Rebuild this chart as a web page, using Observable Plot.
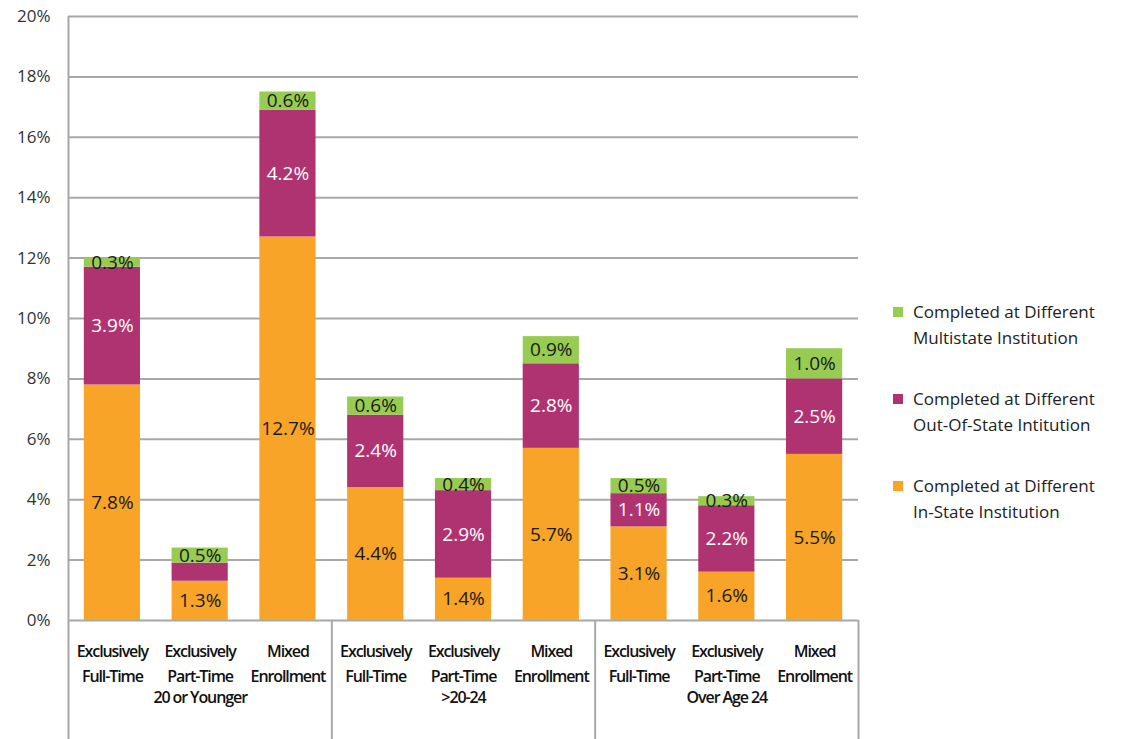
<!DOCTYPE html>
<html>
<head>
<meta charset="utf-8">
<script src="https://cdn.jsdelivr.net/npm/d3@7"></script>
<script src="https://cdn.jsdelivr.net/npm/@observablehq/plot@0.6"></script>
<style>
  html, body { margin: 0; padding: 0; background: #fff; }
  #wrap { position: relative; width: 1133px; height: 739px; overflow: hidden; }
  #legend { position: absolute; left: 893px; top: 299px; font-family: "Open Sans", sans-serif; font-size: 17px; color: #222; }
  .item { position: relative; padding-left: 20px; line-height: 26px; height: 87px; }
  .sw { position: absolute; left: 0; top: 8px; width: 10px; height: 10px; }
  g[aria-label="x-axis tick label"] text { letter-spacing: -1.1px; font-weight: 600; }
</style>
</head>
<body>
<div id="wrap"></div>
<script>
const groups = ["20 or Younger", ">20-24", "Over Age 24"];
const enrollment = ["Exclusively\nFull-Time", "Exclusively\nPart-Time", "Mixed\nEnrollment"];
const series = [
  "Completed at Different In-State Institution",
  "Completed at Different Out-Of-State Intitution",
  "Completed at Different Multistate Institution"
];
const legendLines = [
  ["Completed at Different", "Multistate Institution"],
  ["Completed at Different", "Out-Of-State Intitution"],
  ["Completed at Different", "In-State Institution"]
];
const colors = ["#F7A428", "#B03371", "#98CB52"];
// values per bar: groups x enrollment, in order
const inState    = [7.8, 1.3, 12.7, 4.4, 1.4, 5.7, 3.1, 1.6, 5.5];
const outOfState = [3.9, 0.6, 4.2, 2.4, 2.9, 2.8, 1.1, 2.2, 2.5];
const multistate = [0.3, 0.5, 0.6, 0.6, 0.4, 0.9, 0.5, 0.3, 1.0];
// labels not shown in the original (bar index, series index)
const hiddenLabels = [[1, 1]];
const yTicks = [0, 2, 4, 6, 8, 10, 12, 14, 16, 18, 20];

const keys = [];
groups.forEach(g => enrollment.forEach(e => keys.push(g + "|" + e)));
const seriesValues = [inState, outOfState, multistate];
const rows = [];
keys.forEach((k, i) => {
  seriesValues.forEach((vals, s) => {
    rows.push({
      key: k, bar: i, s, series: series[s], value: vals[i],
      hidden: hiddenLabels.some(([b, ss]) => b === i && ss === s)
    });
  });
});

const W = 1133, H = 739;
const mL = 68, mR = 275, mT = 16, mB = 119;
const plotW = W - mL - mR;
const step = plotW / keys.length;
const pxPerUnit = (H - mT - mB) / 20;
const yBottom = -mB / pxPerUnit;
const fmt = v => v.toFixed(1) + "%";

const leftBoundaries = [
  {key: keys[0], y1: 20},
  {key: keys[3], y1: 0},
  {key: keys[6], y1: 0}
];
const rightBoundaries = [{key: keys[8], y1: 0}];

const chart = Plot.plot({
  width: W, height: H,
  marginLeft: mL, marginRight: mR, marginTop: mT, marginBottom: mB,
  style: {fontFamily: "'Open Sans', sans-serif", background: "#fff"},
  x: {domain: keys, paddingInner: 0.36, paddingOuter: 0.18, round: false, axis: null},
  y: {domain: [0, 20], axis: null},
  color: {domain: series, range: colors},
  marks: [
    Plot.ruleY(yTicks, {stroke: "#a8a8a8", strokeWidth: 2}),
    Plot.barY(rows, Plot.stackY({x: "key", y: "value", fill: "series"})),
    Plot.text(rows, Plot.stackY({
      x: "key", y: "value",
      text: d => (d.s !== 1 && !d.hidden) ? fmt(d.value) : "",
      fill: "#1a1a1a", fontSize: 19
    })),
    Plot.text(rows, Plot.stackY({
      x: "key", y: "value",
      text: d => (d.s === 1 && !d.hidden) ? fmt(d.value) : "",
      fill: "#ffffff", fontSize: 19
    })),
    Plot.axisY(yTicks, {
      tickSize: 0, tickPadding: 18, tickFormat: d => d + "%",
      fontSize: 17, fill: "#333", label: null
    }),
    Plot.axisX({
      tickSize: 0, tickPadding: 19,
      tickFormat: k => k.split("|")[1],
      fontSize: 16, lineHeight: 1.55, fill: "#111", label: null
    }),
    Plot.text(groups, {
      x: g => g + "|" + enrollment[1], frameAnchor: "bottom", lineAnchor: "middle", dy: 77,
      text: d => d, fontSize: 16, fontWeight: 600, fill: "#111"
    }),
    Plot.ruleX(leftBoundaries, {
      x: "key", y1: "y1", y2: () => yBottom, dx: -step / 2,
      stroke: "#a8a8a8", strokeWidth: 2
    }),
    Plot.ruleX(rightBoundaries, {
      x: "key", y1: "y1", y2: () => yBottom, dx: step / 2,
      stroke: "#a8a8a8", strokeWidth: 2
    })
  ]
});

d3.select(chart).selectAll("text")
  .filter(function() { return groups.includes(this.textContent); })
  .style("letter-spacing", "-1.1px");

const wrap = document.getElementById("wrap");
wrap.appendChild(chart);

const legend = document.createElement("div");
legend.id = "legend";
[2, 1, 0].forEach((s, j) => {
  const item = document.createElement("div");
  item.className = "item";
  const sw = document.createElement("span");
  sw.className = "sw";
  sw.style.background = colors[s];
  item.appendChild(sw);
  const t = document.createElement("div");
  t.innerHTML = legendLines[j].map(l => l.replace(/&/g, "&amp;").replace(/</g, "&lt;")).join("<br>");
  item.appendChild(t);
  legend.appendChild(item);
});
wrap.appendChild(legend);
</script>
</body>
</html>
